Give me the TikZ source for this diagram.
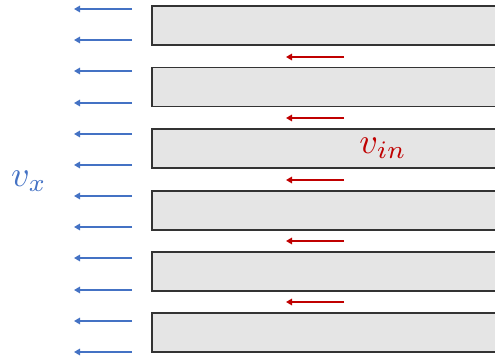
\documentclass[tikz,border=0pt]{standalone}
\usetikzlibrary{arrows.meta}

\definecolor{flowblue}{HTML}{4472C4}
\definecolor{flowred}{HTML}{C00000}

\tikzset{
    plate/.style={draw=black!80, line width=1.2pt, fill=black!10, rectangle, minimum width=360pt, minimum height=39pt, inner sep=0pt},
    outflow/.style={flowblue, line width=2pt, ->},
    inflow/.style={flowred, line width=2pt, ->},
    biglabel/.style={scale=3.6, inner sep=0pt}
}

\begin{document}
\begin{tikzpicture}[x=1pt, y=-1pt, >={Triangle[length=6pt,width=6.5pt]}]

        \clip (0,0) rectangle (495,358);

        % Define the plates (right)
        \node[plate] (P1) at (332,25.5) {};
        \node[plate] (P2) at (332,87) {};
        \node[plate] (P3) at (332,148.5) {};
        \node[plate] (P4) at (332,210.5) {};
        \node[plate] (P5) at (332,271.5) {};
        \node[plate] (P6) at (332,332.5) {};

        % Define the arrow tails in the left column
        \coordinate (B1) at (132,9);
        \coordinate (B2) at (132,40);
        \coordinate (B3) at (132,71);
        \coordinate (B4) at (132,103);
        \coordinate (B5) at (132,134);
        \coordinate (B6) at (132,165);
        \coordinate (B7) at (132,196);
        \coordinate (B8) at (132,227);
        \coordinate (B9) at (132,258);
        \coordinate (B10) at (132,290);
        \coordinate (B11) at (132,321);
        \coordinate (B12) at (132,352);

        % Define the arrow tails between the plates
        \coordinate (R1) at (344,57);
        \coordinate (R2) at (344,118);
        \coordinate (R3) at (344,180);
        \coordinate (R4) at (344,241);
        \coordinate (R5) at (344,302);

        % Draw the blue arrows
        \draw[outflow] (B1) -- ++(-58,0);
        \draw[outflow] (B2) -- ++(-58,0);
        \draw[outflow] (B3) -- ++(-58,0);
        \draw[outflow] (B4) -- ++(-58,0);
        \draw[outflow] (B5) -- ++(-58,0);
        \draw[outflow] (B6) -- ++(-58,0);
        \draw[outflow] (B7) -- ++(-58,0);
        \draw[outflow] (B8) -- ++(-58,0);
        \draw[outflow] (B9) -- ++(-58,0);
        \draw[outflow] (B10) -- ++(-58,0);
        \draw[outflow] (B11) -- ++(-58,0);
        \draw[outflow] (B12) -- ++(-58,0);

        % Draw the red arrows
        \draw[inflow] (R1) -- ++(-58,0);
        \draw[inflow] (R2) -- ++(-58,0);
        \draw[inflow] (R3) -- ++(-58,0);
        \draw[inflow] (R4) -- ++(-58,0);
        \draw[inflow] (R5) -- ++(-58,0);

        % Labels
        \node[biglabel, text=flowblue] (vx) at (29,181) {$v_x$};
        \node[biglabel, text=flowred] (vin) at (383,148) {$v_{in}$};

    \end{tikzpicture}
\end{document}
